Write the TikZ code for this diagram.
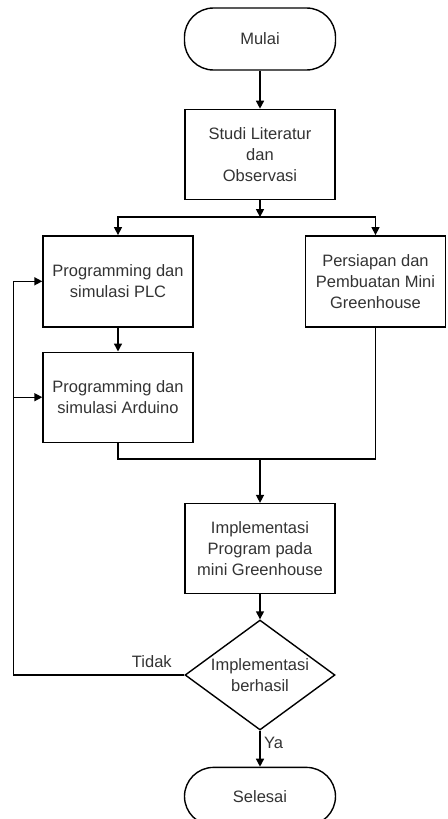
\documentclass[tikz,border=0pt]{standalone}
\usepackage{fontspec}
\setmainfont{Liberation Sans}
\usepackage{tikz}
\usetikzlibrary{arrows.meta,positioning,calc,shapes.geometric}

\begin{document}
\begin{tikzpicture}[
  font=\fontsize{16.5}{21}\selectfont,
  box/.style={draw, line width=1.4pt, align=center, minimum width=150pt, minimum height=90pt, inner sep=2pt, text=black!80},
  term/.style={draw, line width=1.4pt, rounded corners=29pt, align=center, minimum width=151pt, minimum height=62pt, text=black!80},
  decide/.style={draw, line width=1.4pt, diamond, aspect=1.36, inner sep=0pt, align=center, minimum width=150pt, minimum height=110pt, text=black!80},
  arr/.style={-{Triangle[length=8pt,width=8pt]}, line width=1.4pt},
  line/.style={line width=1.4pt}
]
\useasboundingbox (0,0) rectangle (447pt,-819pt);

\node[term] (start) at (260pt,-39pt) {Mulai};
\node[box, below=38pt of start] (studi) {Studi Literatur\\ dan\\ Observasi};
\coordinate[below=17pt of studi] (split);
\node[box, below=18pt of split, xshift=-142pt, minimum height=91pt] (plc) {Programming dan\\ simulasi PLC};
\node[box, below=18pt of split, xshift=115.5pt, minimum width=140pt, minimum height=91pt] (prep) {Persiapan dan\\ Pembuatan Mini\\ Greenhouse};
\node[box, below=24pt of plc] (ard) {Programming dan\\ simulasi Arduino};
\coordinate (merge) at ($(ard.south -| studi.south)+(0,-16pt)$);
\node[box, below=44pt of merge] (impl) {Implementasi\\ Program pada\\ mini Greenhouse};
\node[decide, below=25pt of impl] (check) {Implementasi\\ berhasil};
\node[term, below=36pt of check, minimum height=58pt] (stop) {Selesai};
\coordinate (fb) at ($(check.west)+(-171pt,0)$);

\draw[arr] (start) -- (studi);
\draw[arr] (studi) -- (split);
\draw[arr] (split) -| (plc);
\draw[arr] (split) -| (prep);
\draw[arr] (plc) -- (ard);
\draw[line] (ard) |- (merge);
\draw[line] (prep) |- (merge);
\draw[arr] (merge) -- (impl);
\draw[arr] (impl) -- (check);
\draw[arr] (check) -- node[right, pos=0.35, text=black!80] {Ya} (stop);
\draw[arr] (check.west) -- node[above, pos=0.19, yshift=3pt, text=black!80] {Tidak} (fb) |- (plc.west);
\draw[arr] (fb) |- (ard.west);
\end{tikzpicture}
\end{document}
